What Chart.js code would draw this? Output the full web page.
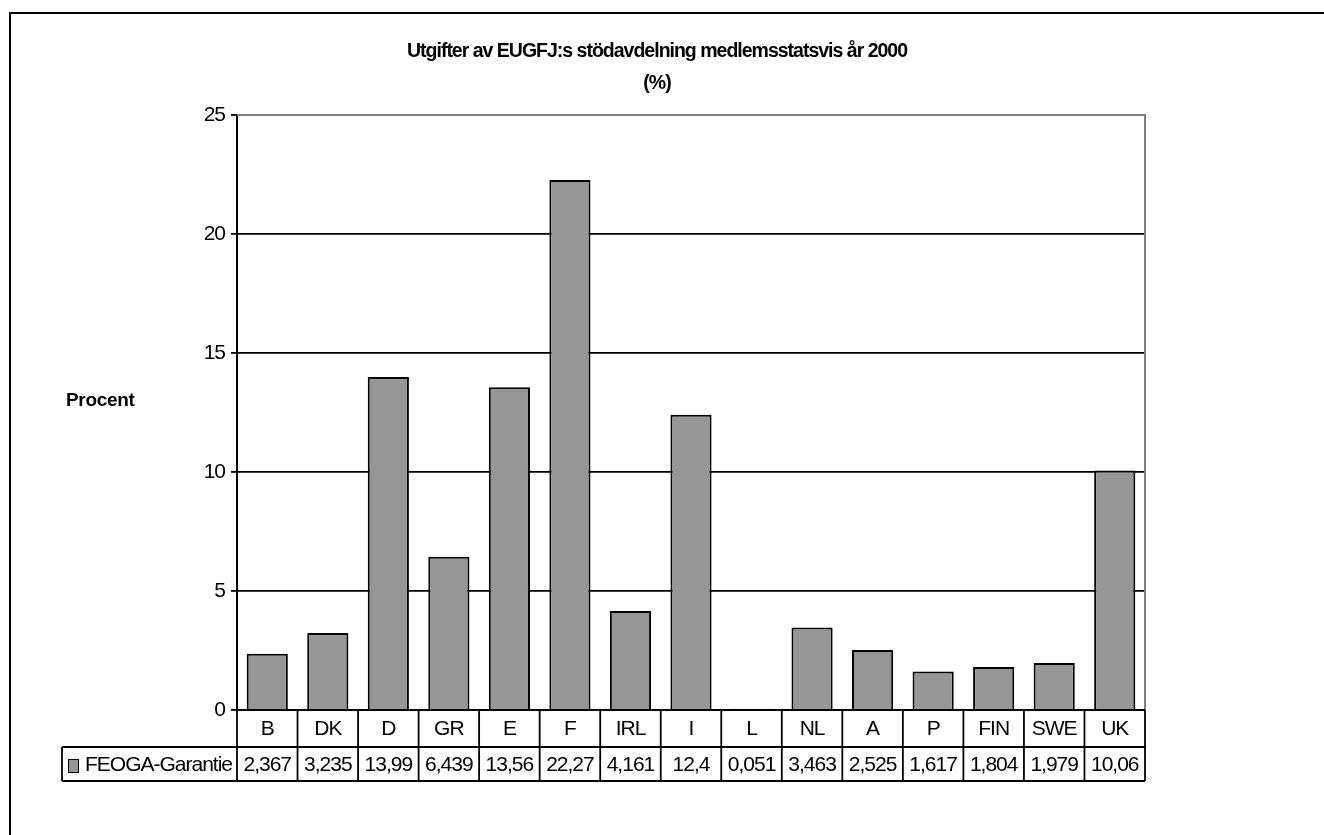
<!DOCTYPE html>
<html>
<head>
<meta charset="utf-8">
<script src="https://cdn.jsdelivr.net/npm/chart.js@4"></script>
<style>
  html, body { margin: 0; padding: 0; background: #fff; }
  #wrap { width: 1324px; height: 835px; }
</style>
</head>
<body>
<div id="wrap"><canvas id="myChart" width="1324" height="835"></canvas></div>
<script>
// EUGFJ stödavdelning, utgifter per medlemsstat år 2000 (%)

const countries = ['B', 'DK', 'D', 'GR', 'E', 'F', 'IRL', 'I', 'L', 'NL', 'A', 'P', 'FIN', 'SWE', 'UK'];
const feoga = [2.367, 3.235, 13.99, 6.439, 13.56, 22.27, 4.161, 12.4, 0.051, 3.463, 2.525, 1.617, 1.804, 1.979, 10.06];
const seriesName = 'FEOGA-Garantie';
const yMin = 0;
const yMax = 25;
const yStep = 5;

const FONT = "'Liberation Sans', Arial, sans-serif";
const BAR_GREY = '#969696';

Chart.defaults.font.family = FONT;
Chart.defaults.font.size = 21;
Chart.defaults.color = '#000';

// Excel-like text is tighter than canvas default
const tightText = {
    id: 'tightText',
    beforeDraw(chart) {
        chart.ctx.letterSpacing = '-1px';
    }
};

// frame, plot border, "Procent" label and data table below the plot
const dataTable = {
    id: 'dataTable',
    afterDraw(chart) {
        const ctx = chart.ctx;
        const a = chart.chartArea;
        const n = countries.length;
        const w = (a.right - a.left) / n;
        const row1 = a.bottom + 37;
        const row2 = row1 + 34;
        const legLeft = 62;

        ctx.save();
        ctx.letterSpacing = '-1px';

        // outer frame
        ctx.strokeStyle = '#000';
        ctx.lineWidth = 2;
        ctx.beginPath();
        ctx.moveTo(10, chart.height + 5);
        ctx.lineTo(10, 13);
        ctx.lineTo(chart.width + 5, 13);
        ctx.stroke();

        // plot top / right border
        ctx.strokeStyle = '#808080';
        ctx.lineWidth = 2;
        ctx.beginPath();
        ctx.moveTo(a.left, a.top);
        ctx.lineTo(a.right, a.top);
        ctx.lineTo(a.right, a.bottom);
        ctx.stroke();

        // table grid
        ctx.strokeStyle = '#000';
        ctx.lineWidth = 1.8;
        ctx.beginPath();
        ctx.moveTo(a.left, a.bottom);
        ctx.lineTo(a.right, a.bottom);
        ctx.moveTo(legLeft, row1);
        ctx.lineTo(a.right, row1);
        ctx.moveTo(legLeft, row2);
        ctx.lineTo(a.right, row2);
        ctx.moveTo(legLeft, row1);
        ctx.lineTo(legLeft, row2);
        for (let i = 0; i <= n; i++) {
            const x = a.left + i * w;
            ctx.moveTo(x, a.bottom);
            ctx.lineTo(x, row2);
        }
        ctx.stroke();

        // texts
        ctx.fillStyle = '#000';
        ctx.font = '21px ' + FONT;
        ctx.textAlign = 'center';
        ctx.textBaseline = 'middle';
        countries.forEach((c, i) => {
            const cx = chart.scales.x.getPixelForValue(i);
            ctx.fillText(c, cx, (a.bottom + row1) / 2 + 1);
            ctx.fillText(String(feoga[i]).replace('.', ','), cx, (row1 + row2) / 2 + 1);
        });

        // legend key
        ctx.fillStyle = BAR_GREY;
        ctx.fillRect(68, row1 + 12, 10, 13);
        ctx.lineWidth = 1;
        ctx.strokeRect(68.5, row1 + 12.5, 10, 13);
        ctx.fillStyle = '#000';
        ctx.textAlign = 'left';
        ctx.fillText(seriesName, 85, (row1 + row2) / 2 + 1);

        // y axis title, horizontal
        ctx.font = 'bold 19px ' + FONT;
        ctx.letterSpacing = '-0.3px';
        ctx.fillText('Procent', 66, 401);

        ctx.restore();
    }
};

const ctx = document.getElementById('myChart');
const myChart = new Chart(ctx, {
    type: 'bar',
    data: {
        labels: countries,
        datasets: [{
            label: seriesName,
            data: feoga,
            backgroundColor: BAR_GREY,
            borderColor: '#000',
            borderWidth: 2,
            barPercentage: 0.68,
            categoryPercentage: 1
        }]
    },
    options: {
        responsive: false,
        animation: false,
        layout: {
            padding: { left: 169, right: 179, top: 0, bottom: 125 }
        },
        scales: {
            x: {
                display: false
            },
            y: {
                min: yMin,
                max: yMax,
                afterFit(scale) {
                    scale.width = 68;
                },
                ticks: {
                    stepSize: yStep,
                    padding: 6,
                    font: { size: 21 }
                },
                grid: {
                    color: c => (c.tick && c.tick.value === yMax) ? '#808080' : '#000',
                    tickColor: '#000',
                    lineWidth: 1.8,
                    tickLength: 6
                },
                border: {
                    color: '#000',
                    width: 2
                }
            }
        },
        plugins: {
            title: {
                display: true,
                text: ['Utgifter av EUGFJ:s stödavdelning medlemsstatsvis år 2000', '(%)'],
                font: { size: 19.5, weight: 'bold', lineHeight: 1.64 },
                padding: { top: 36, bottom: 15 }
            },
            legend: { display: false },
            tooltip: { enabled: false }
        }
    },
    plugins: [tightText, dataTable]
});
</script>
</body>
</html>
